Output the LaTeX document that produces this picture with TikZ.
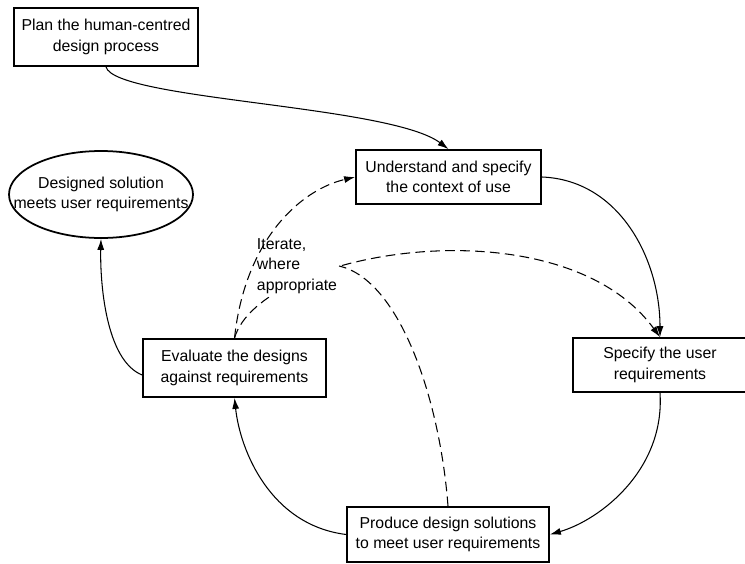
\documentclass[tikz,border=0pt]{standalone}
\usepackage{fontspec}
\setmainfont{Liberation Sans}
\usetikzlibrary{shapes.geometric, arrows.meta}
\tikzset{
  stagebox/.style={rectangle, draw, line width=1pt, fill=white, align=center,
                   inner sep=2pt, font=\fontsize{9}{11.5}\selectfont},
  goalbox/.style={ellipse, draw, line width=1pt, fill=white, align=center,
                  inner xsep=-0.45cm, inner ysep=0pt, font=\fontsize{9}{11.5}\selectfont},
  notelabel/.style={align=left, fill=white, inner sep=1pt,
                    font=\fontsize{9}{11.5}\selectfont},
  flow/.style={-{Latex[length=2.2mm, width=1.4mm]}, line width=0.6pt},
  iterflow/.style={flow, dash pattern=on 5.5pt off 3pt},
  iterline/.style={line width=0.6pt, dash pattern=on 5.5pt off 3pt},
}
\begin{document}
\begin{tikzpicture}
  \useasboundingbox (0,0) rectangle (14.9,-11.26);

  % Activities
  \node[stagebox, minimum width=3.68cm, minimum height=1.16cm] (plan) at (2.12,-0.74) {Plan the human-centred\\design process};
  \node[goalbox, minimum width=3.68cm, minimum height=1.74cm] (solution) at (2.02,-3.89) {Designed solution\\meets user requirements};
  \node[stagebox, minimum width=3.7cm, minimum height=1.08cm] (context) at (8.97,-3.54) {Understand and specify\\the context of use};
  \node[stagebox, minimum width=3.48cm, minimum height=1.08cm] (userreq) at (13.2,-7.3) {Specify the user\\requirements};
  \node[stagebox, minimum width=4.04cm, minimum height=1.1cm] (produce) at (8.96,-10.69) {Produce design solutions\\to meet user requirements};
  \node[stagebox, minimum width=3.66cm, minimum height=1.16cm] (evaluate) at (4.69,-7.36) {Evaluate the designs\\against requirements};

  % Main cycle
  \draw[flow] (plan.south) .. controls (2.3,-2.0) and (7.8,-2.1) .. (context.north);
  \draw[flow] (context.east) .. controls (12.4,-3.6) and (13.2,-5.2) .. (userreq.north);
  \draw[flow] (userreq.south) .. controls (13.3,-9.4) and (12.0,-10.4) .. (produce.east);
  \draw[flow] (produce.west) .. controls (5.4,-10.5) and (4.8,-9.0) .. (evaluate.south);
  \draw[flow] ([yshift=-0.14cm]evaluate.west) .. controls (2.1,-7.2) and (2.0,-5.6) .. (solution.south);

  % Iteration
  \draw[iterflow] (evaluate.north) .. controls (5.2,-5.0) and (11.2,-4.0) .. (userreq.north);
  \node[notelabel] (iterate) at (5.94,-5.32) {Iterate,\\where\\appropriate};
  \draw[iterflow] (evaluate.north) .. controls (4.9,-4.8) and (6.0,-3.8) .. (context.west);
  \draw[iterline] (produce.north) .. controls (8.8,-8.0) and (8.0,-5.6) .. (iterate.east);

\end{tikzpicture}
\end{document}
